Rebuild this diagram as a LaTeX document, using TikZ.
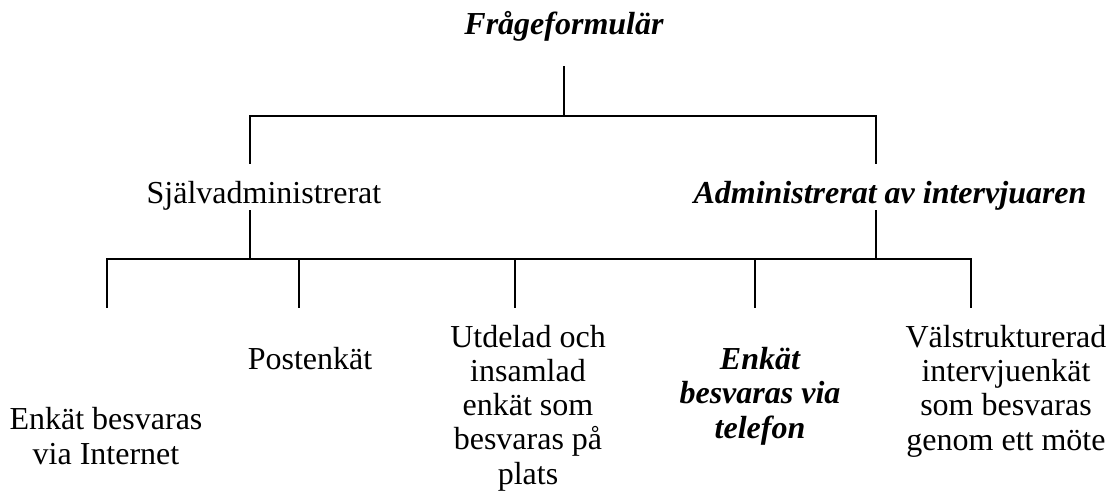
\documentclass[tikz,border=0pt]{standalone}
\usepackage{fontspec}
\setmainfont{Liberation Serif}
\begin{document}
\begin{tikzpicture}[x=1pt,y=-1pt,
  lbl/.style={inner sep=0pt,anchor=base,align=center,
    font=\fontsize{32}{34.2}\selectfont},
  lblbi/.style={lbl,font=\fontsize{32}{34.2}\selectfont\bfseries\itshape},
  conn/.style={line width=1.6pt,line cap=rect}]
\useasboundingbox (0,0) rectangle (1112,500);

% labels (a multi-line node's base anchor sits on its last line)
\node[lblbi] (top)   at (564,35)  {Frågeformulär};
\node[lbl]   (self)  at (264,204) {Självadministrerat};
\node[lblbi] (admin) at (890,204) {Administrerat av intervjuaren};
\node[lbl]   (web)   at (106,464) {Enkät besvaras\\via Internet};
\node[lbl]   (post)  at (310,369) {Postenkät};
\node[lbl]   (hand)  at (528,484) {Utdelad och\\insamlad\\enkät som\\besvaras på\\plats};
\node[lblbi] (tel)   at (760,438) {Enkät\\besvaras via\\telefon};
\node[lbl]   (meet)  at (1006,450) {Välstrukturerad\\intervjuenkät\\som besvaras\\genom ett möte};

% connector end points
\coordinate (topS)   at (564,67);
\coordinate (topJ)   at (564,116);
\coordinate (selfN)  at (250,163);
\coordinate (selfJ)  at (250,116);
\coordinate (adminN) at (876,163);
\coordinate (adminJ) at (876,116);
\coordinate (selfS)  at (250,211);
\coordinate (adminS) at (876,211);
\coordinate (selfB)  at (250,259);
\coordinate (adminB) at (876,259);
\coordinate (webJ)   at (107,259);
\coordinate (webN)   at (107,307);
\coordinate (postJ)  at (299,259);
\coordinate (postN)  at (299,307);
\coordinate (handJ)  at (515,259);
\coordinate (handN)  at (515,307);
\coordinate (telJ)   at (755,259);
\coordinate (telN)   at (755,307);
\coordinate (meetJ)  at (971,259);
\coordinate (meetN)  at (971,307);

% first level
\draw[conn] (topS) -- (topJ);
\draw[conn] (selfN) -- (selfJ) -- (adminJ) -- (adminN);
% second level
\draw[conn] (selfS) -- (selfB);
\draw[conn] (adminS) -- (adminB);
\draw[conn] (webN) -- (webJ) -- (meetJ) -- (meetN);
\draw[conn] (postJ) -- (postN);
\draw[conn] (handJ) -- (handN);
\draw[conn] (telJ) -- (telN);
\end{tikzpicture}
\end{document}
